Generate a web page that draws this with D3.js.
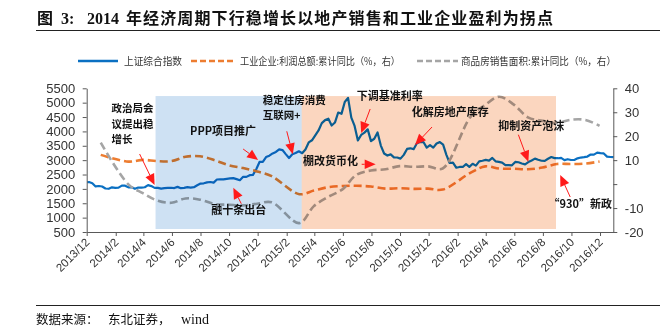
<!DOCTYPE html>
<html><head><meta charset="utf-8">
<script src="https://cdn.jsdelivr.net/npm/d3@7"></script>
<style>body{margin:0;background:#fff}svg{display:block}</style>
</head><body>
<svg id="c" width="667" height="328"></svg>
<script>
// ---------------- data ----------------
const tickLabels = ["2013/12","2014/2","2014/4","2014/6","2014/8","2014/10","2014/12","2015/2","2015/4","2015/6","2015/8","2015/10","2015/12","2016/2","2016/4","2016/6","2016/8","2016/10","2016/12"];
const leftTicks = [500,1000,1500,2000,2500,3000,3500,4000,4500,5000,5500];
const rightTicks = [-20,-10,0,10,20,30,40];

// 上证综合指数: first value on 2013-12-02, then weekly (Fridays from 2013-12-06)
const indexFirstDate = "2013-12-02";
const indexWeeklyStart = "2013-12-06";
const indexValues = [2230,
 2238,2197,2085,2101,
 2083,2013,2004,2055,2033, 2044,2115,2113,2056, 2057,2004,2047,2046, 2058,2131,2098,2036,
 2033,2011,2026,2034,2039, 2029,2070,2024,2036, 2059,2047,2059,2127, 2185,2195,2226,2240,2217,
 2327,2331,2329,2347, 2364,2375,2341,2302,2420, 2418,2478,2487,2683, 2938,2938,3108,3157,
 3234,3285,3376,3351,3210, 3076,3203,3247,3310, 3241,3372,3617,3691, 3863,4034,4287,4393,
 4441,4205,4308,4657,4611, 5023,5166,4478,4192, 3686,3877,3957,4070,3663, 3744,3965,3507,3232,
 3160,3200,3097,3092, 3053,3183,3391,3412,3382, 3590,3632,3630,3436, 3524,3434,3578,3627,
 3539,3186,2901,2916,2737, 2763,2763,2861,2767, 2874,2810,2955,2979, 3009,2985,3078,2959,2938,
 2913,2827,2826,2821, 2938,2927,2885,2854, 2932,2989,3054,3013,2979, 2977,3050,3108,3070,
 3067,3078,3003,3033,3005, 3005,3063,3091,3104, 3125,3196,3193,3261, 3244,3233,3123,3110,3104];

// monthly (month-end) series, % (right axis)
const months = ["2013-12","2014-02","2014-03","2014-04","2014-05","2014-06","2014-07","2014-08","2014-09","2014-10","2014-11","2014-12",
 "2015-02","2015-03","2015-04","2015-05","2015-06","2015-07","2015-08","2015-09","2015-10","2015-11","2015-12",
 "2016-02","2016-03","2016-04","2016-05","2016-06","2016-07","2016-08","2016-09","2016-10","2016-11"];
const profitValues = [12.2,9.4,10.1,9.6,9.6,11.4,11.6,10.0,7.9,6.7,5.3,3.3,
 -4.2,-2.7,-1.3,-0.8,-0.7,-1.0,-1.9,-1.7,-2.0,-1.9,-2.3,
 4.8,7.4,6.5,6.4,6.2,6.9,8.4,8.4,8.6,9.4];
const salesValues = [17.3,-0.1,-3.8,-6.8,-7.8,-6.0,-6.5,-8.3,-8.6,-8.9,-8.2,-7.6,
 -16.3,-9.2,-5.4,-2.2,3.9,5.7,6.2,7.5,7.2,7.4,6.5,
 28.2,33.1,36.5,33.2,27.9,26.4,25.5,26.9,26.8,24.3];

const seriesNames = ["上证综合指数","工业企业:利润总额:累计同比（%，右）","商品房销售面积:累计同比（%，右）"];
const shadeStarts = ["2014-04-27","2015-03-05"];
const shadeEnds   = ["2015-03-05","2016-08-29"];

const noteTexts = [["政治局会","议提出稳","增长"],["PPP项目推广"],["稳定住房消费","互联网+"],["融十条出台"],["棚改货币化"],["下调基准利率"],["化解房地产库存"],["抑制资产泡沫"],["“930”新政"]];
const noteDates = ["2014-04-25","2014-12-02","2015-02-14","2014-10-10","2015-08-10","2015-07-10","2015-11-02","2016-07-01","2016-09-07"];
const noteValues = [2135,3005,3204,2040,2856,3945,3527,2946,2483];

// ---------------- layout ----------------
const svg = d3.select("#c");
const parse = d3.timeParse("%Y-%m-%d");
const L = 86.7, R = 613.6, B = 232, T = 88.3;
const x = d3.scaleTime().domain([parse("2013-12-01"), parse("2016-12-30")]).range([L, R]);
const yL = d3.scaleLinear().domain([500,5500]).range([B, T]);
const yR = d3.scaleLinear().domain([-20,40]).range([B, T]);

const idxDates = indexValues.map((v,i) => i===0 ? parse(indexFirstDate) : d3.timeDay.offset(parse(indexWeeklyStart), 7*(i-1)));
const monthEnd = m => d3.timeDay.offset(d3.timeMonth.offset(parse(m+"-01"),1), -1);
const mDates = months.map(monthEnd);

const fontCJK = "'Noto Sans CJK SC', sans-serif";
const fontNum = "'Liberation Sans', Arial, sans-serif";

// lines
const lineIdx = d3.line().x((d,i)=>x(idxDates[i])).y(d=>yL(d));
svg.append("path").attr("d", lineIdx(indexValues)).attr("fill","none")
  .attr("stroke","#0b70c2").attr("stroke-width",2.2).attr("stroke-linejoin","round");
const lineM = d3.line().x((d,i)=>x(mDates[i])).y(d=>yR(d)).curve(d3.curveCatmullRom.alpha(0.5));
svg.append("path").attr("d", lineM(profitValues)).attr("fill","none")
  .attr("stroke","#ed7d31").attr("stroke-width",2.6).attr("stroke-dasharray","8,4");
svg.append("path").attr("d", lineM(salesValues)).attr("fill","none")
  .attr("stroke","#a5a5a5").attr("stroke-width",2.6).attr("stroke-dasharray","8,4");

// shaded periods (multiply over lines)
const shadeColors = ["#cee1f3","#fbd6bf"];
shadeStarts.forEach((s,i)=>{
  svg.append("rect").attr("x", x(parse(s))).attr("width", x(parse(shadeEnds[i]))-x(parse(s)))
    .attr("y", yL(5230)).attr("height", yL(605)-yL(5230))
    .attr("fill", shadeColors[i]).style("mix-blend-mode","multiply");
});

// axes
function styleAxis(g){
  g.selectAll("path,line").attr("stroke","#595959").attr("stroke-width",1);
  g.selectAll("text").attr("fill","#333").style("font-family",fontNum);
}
const gL = svg.append("g").attr("transform",`translate(${L},0)`)
  .call(d3.axisLeft(yL).tickValues(leftTicks).tickSize(4).tickSizeOuter(0).tickPadding(7.5).tickFormat(d3.format("d")));
styleAxis(gL); gL.selectAll("text").style("font-size","13px");
const gR = svg.append("g").attr("transform",`translate(${R-0.3},0)`)
  .call(d3.axisRight(yR).tickValues(rightTicks).tickSize(4).tickSizeOuter(0).tickPadding(7.5).tickFormat(d=>d===0?"":d));
styleAxis(gR); gR.selectAll("text").style("font-size","13px");
const tickDates = tickLabels.map(t=>{const [yy,mm]=t.split("/"); return parse(`${yy}-${mm.padStart(2,"0")}-01`);});
const gX = svg.append("g").attr("transform",`translate(0,${B})`)
  .call(d3.axisBottom(x).tickValues(tickDates).tickSize(4).tickSizeOuter(0).tickFormat((d,i)=>tickLabels[i]));
styleAxis(gX);
gX.selectAll("text").attr("x",0).attr("y",0).attr("dy",0)
  .attr("transform","translate(3,11) rotate(-45)").style("text-anchor","end").style("font-size","11.5px");

// annotations
const gA = svg.append("g");
const tailOffsets = [[-15,-31],[-15,-11],[-6,-23],[8,16],[-14,0],[9,-24],[17,-18],[-10,-27],[10,22]];
const textOffsets = [[-43,-76.5],[-68,-29],[-30,-54.3],[-22,22],[-72.7,-3.5],[-4.3,-37],[-3.3,-32.7],[-30,-36],[-11.7,29.3]];
noteTexts.forEach((lines,i)=>{
  const tx = x(parse(noteDates[i])), ty = yL(noteValues[i]);
  const sx = tx + tailOffsets[i][0], sy = ty + tailOffsets[i][1];
  const a = Math.atan2(ty-sy, tx-sx), hl = 11, hw = 4.8;
  const bx = tx - hl*Math.cos(a), by = ty - hl*Math.sin(a);
  gA.append("line").attr("x1",sx).attr("y1",sy).attr("x2",bx).attr("y2",by).attr("stroke","#ff1a1a").attr("stroke-width",1);
  gA.append("polygon").attr("points",[[tx,ty],[bx+hw*Math.sin(a),by-hw*Math.cos(a)],[bx-hw*Math.sin(a),by+hw*Math.cos(a)]].map(p=>p.join(",")).join(" "))
    .attr("fill","#ff1a1a");
  const multi = lines.length > 1;
  lines.forEach((ln,j)=>{
    gA.append("text").attr("x",tx+textOffsets[i][0]).attr("y",ty+textOffsets[i][1]+j*15.4).attr("dy","0.36em")
      .style("font-family",fontCJK).style("font-weight","700").style("font-size", multi ? "10.5px" : "11px")
      .attr("fill","#111").text(ln);
  });
});

// legend
const lg = svg.append("g");
const legY = 61;
lg.append("line").attr("x1",78).attr("x2",118).attr("y1",legY).attr("y2",legY).attr("stroke","#0b70c2").attr("stroke-width",2.6);
lg.append("line").attr("x1",191).attr("x2",235).attr("y1",legY).attr("y2",legY).attr("stroke","#ed7d31").attr("stroke-width",2.6).attr("stroke-dasharray","6,3");
lg.append("line").attr("x1",417).attr("x2",458).attr("y1",legY).attr("y2",legY).attr("stroke","#a5a5a5").attr("stroke-width",2.6).attr("stroke-dasharray","6,3");
const legX = [124,240,461], legW = [58,160,155];
seriesNames.forEach((n,i)=>{
  lg.append("text").attr("x",legX[i]).attr("y",legY).attr("dy","0.36em").attr("textLength",legW[i]).attr("lengthAdjust","spacingAndGlyphs")
    .style("font-family",fontCJK).style("font-size","10px").attr("fill","#333").text(n);
});

// title
const titleFont = "'Liberation Serif', 'Noto Sans CJK SC', serif";
const tg = svg.append("g").style("font-family",titleFont).style("font-weight","700").style("font-size","16px").attr("fill","#111");
tg.append("text").attr("x",37).attr("y",23.5).text("图");
tg.append("text").attr("x",61).attr("y",23.5).text("3:");
tg.append("text").attr("x",87).attr("y",23.5).text("2014");
tg.append("text").attr("x",126).attr("y",23.5).attr("textLength",427).attr("lengthAdjust","spacing").text("年经济周期下行稳增长以地产销售和工业企业盈利为拐点");
svg.append("line").attr("x1",36).attr("x2",660).attr("y1",30.5).attr("y2",30.5).attr("stroke","#222").attr("stroke-width",1);

// footer
svg.append("line").attr("x1",36).attr("x2",660).attr("y1",305.5).attr("y2",305.5).attr("stroke","#222").attr("stroke-width",1);
const ft = svg.append("text").attr("y",323.5).style("font-family",titleFont).style("font-size","12.5px").attr("fill","#111");
ft.append("tspan").attr("x",36).text("数据来源：");
ft.append("tspan").attr("x",108).text("东北证券，");
ft.append("tspan").attr("x",181).style("font-size","14px").text("wind");
</script>
</body></html>
